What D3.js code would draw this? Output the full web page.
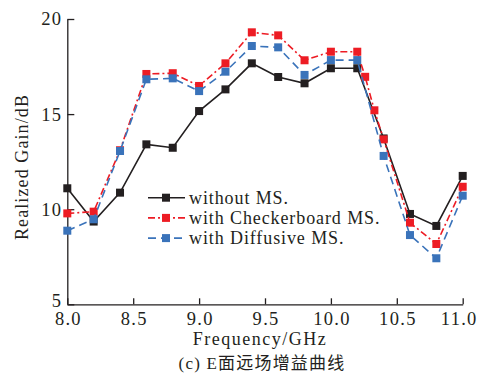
<!DOCTYPE html>
<html>
<head>
<meta charset="utf-8">
<script src="https://cdn.jsdelivr.net/npm/d3@7"></script>
<style>
  body { margin: 0; background: #fff; }
  svg text { font-family: "Liberation Serif", serif; fill: #231f20; }
  svg text.cjk { font-family: "Liberation Serif", "Noto Sans CJK SC", serif; }
</style>
</head>
<body>
<svg id="chart" width="480" height="376"></svg>
<script>
// frequency points (GHz)
var freq = [8.0, 8.2, 8.4, 8.6, 8.8, 9.0, 9.2, 9.4, 9.6, 9.8, 10.0, 10.2, 10.4, 10.6, 10.8, 11.0];
var freqChecker = [8.0, 8.2, 8.4, 8.6, 8.8, 9.0, 9.2, 9.4, 9.6, 9.8, 10.0, 10.2, 10.26, 10.33, 10.4, 10.6, 10.8, 11.0];
// realized gain (dB)
var gainWithout = [11.1, 9.35, 10.87, 13.41, 13.23, 15.16, 16.3, 17.67, 16.95, 16.62, 17.41, 17.41, 13.72, 9.75, 9.12, 11.75];
var gainChecker = [9.78, 9.87, 13.1, 17.11, 17.15, 16.48, 17.67, 19.3, 19.14, 17.83, 18.28, 18.28, 16.96, 15.2, 13.67, 9.29, 8.17, 11.18];
var gainDiffusive = [8.87, 9.47, 13.06, 16.83, 16.88, 16.21, 17.23, 18.58, 18.51, 17.06, 17.84, 17.84, 12.8, 8.64, 7.42, 10.71];
var xTicks = [8.0, 8.5, 9.0, 9.5, 10.0, 10.5, 11.0];
var yTicks = [5, 10, 15, 20];
var labels = ["without MS.", "with Checkerboard MS.", "with Diffusive MS."];

var series = [
  {name: labels[0], x: freq, y: gainWithout, color: '#231f20', dash: null},
  {name: labels[1], x: freqChecker, y: gainChecker, color: '#ed1c24', dash: '7,3,2,3'},
  {name: labels[2], x: freq, y: gainDiffusive, color: '#3a73ba', dash: '8,5'}
];

var svg = d3.select('#chart');
var x = d3.scaleLinear().domain([8, 11]).range([67.3, 462.7]);
var y = d3.scaleLinear().domain([5, 20]).range([304.3, 19]);

// axes, ticks pointing inward
var xAxis = svg.append('g').attr('transform', 'translate(0,' + y(5) + ')')
  .call(d3.axisBottom(x).tickValues(xTicks).tickSizeInner(-6).tickSizeOuter(0).tickFormat(d3.format('.1f')));
var yAxis = svg.append('g').attr('transform', 'translate(' + x(8) + ',0)')
  .call(d3.axisLeft(y).tickValues(yTicks).tickSizeInner(-7).tickSizeOuter(0));
[xAxis, yAxis].forEach(function(a){
  a.attr('font-family', null);
  a.selectAll('path, line').attr('stroke', '#231f20').attr('stroke-width', 1.3);
  a.selectAll('text').attr('font-size', 18.5).attr('letter-spacing', 1.3).attr('fill', '#231f20');
});
xAxis.selectAll('text').attr('dy', '0.71em').attr('y', 8).attr('dx', function(d){ return d === 11 ? -4 : 0.6; });
yAxis.selectAll('text').attr('x', -5);
yAxis.selectAll('.tick').filter(function(d){ return d === 5; }).select('text').attr('dy', '0.1em');

var line = d3.line().x(function(d){ return x(d[0]); }).y(function(d){ return y(d[1]); });

series.forEach(function(s){
  var pts = s.x.map(function(v, i){ return [v, s.y[i]]; });
  svg.append('path').datum(pts)
    .attr('d', line).attr('fill', 'none')
    .attr('stroke', s.color).attr('stroke-width', 1.6)
    .attr('stroke-dasharray', s.dash);
  svg.append('g').selectAll('rect').data(pts).enter().append('rect')
    .attr('x', function(d){ return x(d[0]) - 4; })
    .attr('y', function(d){ return y(d[1]) - 4; })
    .attr('width', 8).attr('height', 8)
    .attr('fill', s.color);
});

// legend
var legend = svg.append('g');
series.forEach(function(s, i){
  var ly = 197.7 + i * 20.2;
  legend.append('line').attr('x1', 148).attr('x2', 185).attr('y1', ly).attr('y2', ly)
    .attr('stroke', s.color).attr('stroke-width', 1.6).attr('stroke-dasharray', s.dash);
  legend.append('rect').attr('x', 162).attr('y', ly - 4).attr('width', 8).attr('height', 8).attr('fill', s.color);
  legend.append('text').attr('x', 189).attr('y', ly).attr('dy', '0.35em')
    .attr('font-size', 18).attr('letter-spacing', 0.9).text(s.name);
});

// axis titles
svg.append('text').attr('x', 260).attr('y', 344.5).attr('text-anchor', 'middle')
  .attr('font-size', 18).attr('letter-spacing', 1.5).text('Frequency/GHz');
svg.append('text').attr('transform', 'translate(28,167) rotate(-90)').attr('text-anchor', 'middle')
  .attr('font-size', 18).attr('letter-spacing', 1.1).text('Realized Gain/dB');
svg.append('text').attr('class', 'cjk').attr('x', 262).attr('y', 368.5).attr('text-anchor', 'middle')
  .attr('font-size', 17).attr('letter-spacing', 1.2).text('(c) E面远场增益曲线');
</script>
</body>
</html>
